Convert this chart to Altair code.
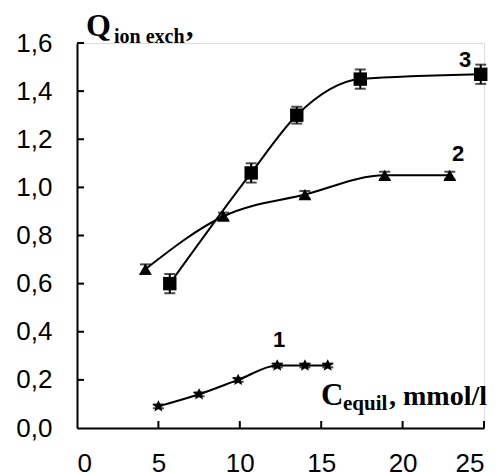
import altair as alt
import pandas as pd

# ---- data ----
s1_x = [5.0, 7.5, 9.9, 12.3, 14.0, 15.4]
s1_y = [0.09, 0.14, 0.20, 0.26, 0.26, 0.26]
s1_e = [0.008, 0.008, 0.008, 0.008, 0.008, 0.008]

s2_x = [4.2, 9.0, 14.0, 18.9, 22.9]
s2_y = [0.66, 0.88, 0.97, 1.05, 1.05]
s2_e = [0.02, 0.015, 0.015, 0.015, 0.015]

s3_x = [5.7, 10.7, 13.5, 17.4, 24.8]
s3_y = [0.60, 1.06, 1.30, 1.45, 1.47]
s3_e = [0.04, 0.04, 0.035, 0.04, 0.04]

x_ticks = [5, 10, 15, 20, 25]
y_ticks = [0.2, 0.4, 0.6, 0.8, 1.0, 1.2, 1.4, 1.6]

rows = []
for name, xs, ys, es in [("1", s1_x, s1_y, s1_e), ("2", s2_x, s2_y, s2_e), ("3", s3_x, s3_y, s3_e)]:
    for x, y, e in zip(xs, ys, es):
        rows.append({"series": name, "x": x, "y": y, "lo": y - e, "hi": y + e})
df = pd.DataFrame(rows)

W, H = 407, 385
xs = alt.Scale(domain=[0, 25], nice=False, zero=False)
ys = alt.Scale(domain=[0, 1.6], nice=False, zero=False)

star = "M0,-1L0.3,-0.4L1,-0.35L0.45,0.1L0.65,0.85L0,0.45L-0.65,0.85L-0.45,0.1L-1,-0.35L-0.3,-0.4Z"

base = alt.Chart(df)

xaxis = alt.Axis(values=[0, 5, 10, 15, 20, 25], format="d", ticks=False, grid=False,
                 domainColor="black", domainWidth=2, labelFont="Liberation Sans",
                 labelFontSize=26, labelColor="black", labelPadding=22, title=None)
yaxis = alt.Axis(values=[0, 0.2, 0.4, 0.6, 0.8, 1.0, 1.2, 1.4, 1.6], ticks=False, grid=False,
                 labelExpr="replace(format(datum.value, '.1f'), '.', ',')",
                 domainColor="black", domainWidth=2, labelFont="Liberation Sans",
                 labelFontSize=26, labelColor="black", labelPadding=25, title=None)

lines = base.mark_line(interpolate="monotone", color="black", strokeWidth=2).encode(
    x=alt.X("x:Q", scale=xs, axis=xaxis),
    y=alt.Y("y:Q", scale=ys, axis=yaxis),
    detail="series:N",
)

err = base.mark_rule(color="black", strokeWidth=2).encode(
    x="x:Q", y="lo:Q", y2="hi:Q"
)
cap_lo = base.mark_tick(color="black", orient="horizontal", size=11, thickness=2).encode(
    x="x:Q", y="lo:Q"
)
cap_hi = base.mark_tick(color="black", orient="horizontal", size=11, thickness=2).encode(
    x="x:Q", y="hi:Q"
)

pts = base.mark_point(filled=True, color="black", opacity=1, strokeWidth=0).encode(
    x="x:Q", y="y:Q",
    shape=alt.Shape("series:N", scale=alt.Scale(domain=["1", "2", "3"], range=[star, "triangle-up", "square"]), legend=None),
    size=alt.Size("series:N", scale=alt.Scale(domain=["1", "2", "3"], range=[150, 180, 95]), legend=None),
)

ytick_df = pd.DataFrame({"v": y_ticks})
xtick_df = pd.DataFrame({"v": x_ticks})
yticks = alt.Chart(ytick_df).mark_rule(color="black", strokeWidth=2).encode(
    y=alt.Y("v:Q", scale=ys), x=alt.value(0), x2=alt.value(7)
)
xticks = alt.Chart(xtick_df).mark_rule(color="black", strokeWidth=2).encode(
    x=alt.X("v:Q", scale=xs), y=alt.value(H), y2=alt.value(H - 7)
)

ox, oy = 77, 42.7

def txt(t, px, py, size, font="Liberation Serif", bold=True, align="left"):
    return alt.Chart(pd.DataFrame({"t": [t]})).mark_text(
        font=font, fontSize=size, fontWeight="bold" if bold else "normal",
        align=align, baseline="alphabetic", color="black"
    ).encode(text="t:N", x=alt.value(px - ox), y=alt.value(py - oy))

labels = [
    txt("Q", 86, 36, 32),
    txt("ion exch", 114, 43, 20),
    txt(",", 186, 36, 30),
    txt("C", 321, 405, 31),
    txt("equil", 343, 410, 21),
    txt(",", 389, 405, 28),
    txt("mmol/l", 403, 405, 28),
    txt("3", 465, 67, 22, font="Liberation Sans", align="center"),
    txt("2", 458, 161, 22, font="Liberation Sans", align="center"),
    txt("1", 279, 347, 22, font="Liberation Sans", align="center"),
]

chart = alt.layer(lines, err, cap_lo, cap_hi, pts, yticks, xticks, *labels).properties(
    width=W, height=H,
    autosize=alt.AutoSizeParams(type="none"),
    padding={"left": 77, "top": 43, "right": 17, "bottom": 44},
).configure_view(stroke=None).configure(background="white")

chart.save("out.html", embed_options={"renderer": "svg", "actions": False})
